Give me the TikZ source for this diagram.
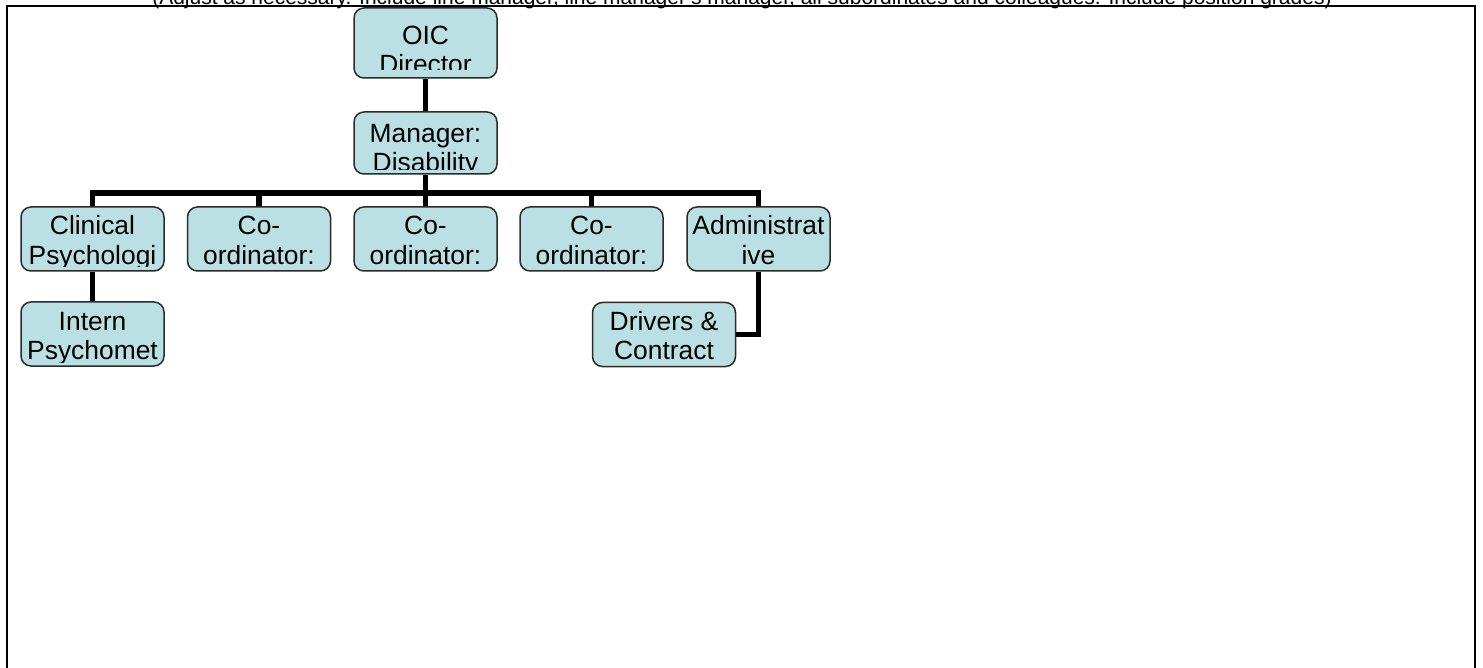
\documentclass[tikz,border=0pt]{standalone}
\usepackage{fontspec}
\setmainfont{Liberation Sans}
\usetikzlibrary{calc}
\definecolor{postfill}{HTML}{BBE0E3}
\definecolor{postline}{HTML}{2B2B2B}

\begin{document}
\begin{tikzpicture}[x=0.5pt, y=-0.5pt,
    first base/.store in=\firstbase, first base=28,
    clip gap/.store in=\clipgap, clip gap=4,
    posttext/.style={draw=none, fill=none, inner sep=0pt, outer sep=0pt, anchor=base,
      minimum width=0pt, minimum height=0pt, font=\fontsize{13.2}{15}\selectfont},
    post/.style n args={2}{draw=postline, line width=0.75pt, rounded corners=5pt, fill=postfill,
      minimum width=71.5pt, minimum height=32pt, inner sep=0pt,
      path picture={
        \clip[sharp corners] ($(path picture bounding box.south west)+(0,-\clipgap)$)
          rectangle (path picture bounding box.north east);
        \node[posttext] at ($(path picture bounding box.north)+(0,\firstbase)$) {#1};
        \node[posttext] at ($(path picture bounding box.north)+(0,\firstbase+29)$) {#2};
      }},
    link/.style={line width=2.8pt, draw=black}]

  \useasboundingbox (0,0) rectangle (1483,668);
  \clip (0,0) rectangle (1483,668);
  \fill[white] (0,0) rectangle (1483,668);

  % ---------------- page ----------------
  \node[anchor=base, font=\fontsize{10.5}{12}\selectfont] (hint) at (742,5)
    {(Adjust as necessary. Include line manager, line manager's manager, all subordinates and colleagues. Include position grades)};
  \draw[line width=1.1pt] (7,6) rectangle (1475,720);

  % ---------------- top ----------------
  \node[post={OIC}{Director}, first base=37, clip gap=8, minimum height=35pt] (oic) at (425.5,43) {};
  \node[post={Manager:}{Disability}, first base=31, minimum height=31pt] (mgr) at (425.5,143) {};

  % ---------------- staff ----------------
  \node[post={Clinical}{Psychologi}] (clin) at (92.5,239) {};
  \node[post={Co-}{ordinator:}] (co1) at (259,239) {};
  \node[post={Co-}{ordinator:}] (co2) at (425.5,239) {};
  \node[post={Co-}{ordinator:}] (co3) at (591.5,239) {};
  \node[post={Administrat}{ive}] (adm) at (758.5,239) {};
  \node[post={Intern}{Psychomet}] (intern) at (92.5,334) {};
  \node[post={Drivers \&}{Contract}] (drv) at (664,334.5) {};

  % ---------------- lines ----------------
  \coordinate (bus) at (425.5,193);
  \draw[link] (oic) -- (mgr);
  \draw[link] (mgr) -- (bus);
  \draw[link] (clin.north) |- (bus) -| (adm.north);
  \foreach \n in {co1,co2,co3}
    \draw[link] (\n.north) -- (\n.north |- bus);
  \draw[link] (clin) -- (intern);
  \draw[link] (adm.south) |- (drv.east);
\end{tikzpicture}
\end{document}
